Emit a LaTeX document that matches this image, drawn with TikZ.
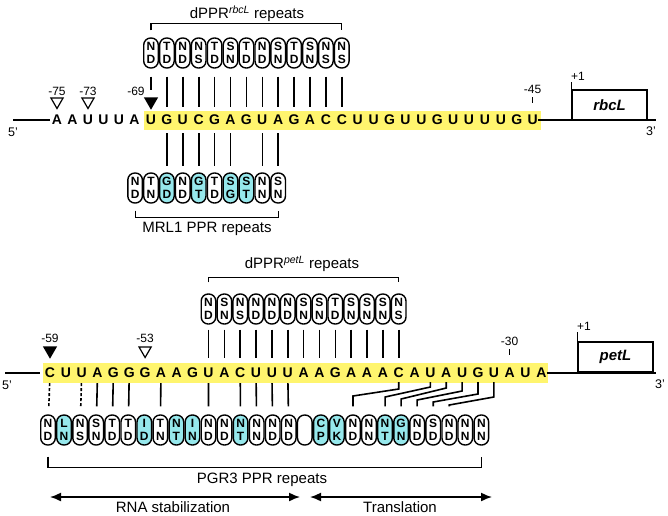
\documentclass[tikz,border=0pt]{standalone}
\usepackage{fontspec}
\setmainfont{Liberation Sans}
\usetikzlibrary{arrows.meta,shapes.geometric}
\definecolor{seqyellow}{RGB}{255,245,110}
\definecolor{repcyan}{RGB}{150,232,236}
\tikzset{
  base/.style={font=\bfseries\fontsize{14}{14}\selectfont, inner sep=0pt, minimum height=18pt},
  rep/.style={draw, line width=1.4pt, rounded corners=7pt, minimum width=14.6pt, minimum height=30pt,
    inner sep=0pt, align=center, font=\bfseries\fontsize{12}{12.5}\selectfont},
  link/.style={line width=1.6pt},
  dlink/.style={link, dash pattern=on 3pt off 2pt},
  brk/.style={line width=1.2pt},
  lab/.style={font=\fontsize{12}{12}\selectfont, inner sep=0pt},
  endlab/.style={font=\fontsize{12.5}{12.5}\selectfont, inner sep=0pt},
  ttl/.style={font=\fontsize{15}{15}\selectfont, inner sep=0pt},
  opentri/.style={draw, line width=1.2pt, regular polygon, regular polygon sides=3,
    shape border rotate=180, minimum size=14pt, inner sep=0pt},
  filltri/.style={opentri, fill=black},
  gene/.style={draw, line width=1.5pt, minimum width=75pt, minimum height=30pt,
    font=\bfseries\itshape\fontsize{15}{15}\selectfont},
  strand/.style={line width=1.5pt},
  biarrow/.style={line width=1.5pt, {Latex[length=11pt,width=9pt]}-{Latex[length=11pt,width=9pt]}},
}
\begin{document}
\begin{tikzpicture}[x=1pt,y=-1pt]
\useasboundingbox (0,0) rectangle (668,515);

% rbcL 5' UTR
\fill[seqyellow] (143.5,111) rectangle (541,129.5);
\foreach \b [count=\i] in {A,A,U,U,U,A}
  \node[base] (a\i) at ({41.5+15.5*\i},120) {\b};
\foreach \b [count=\i] in {U,G,U,C,G,A,G,U,A,G,A,C,C,U,U,G,U,U,G,U,U,U,U,G,U}
  \node[base] (t\i) at ({135.1+15.9*\i},120) {\b};

\coordinate (r5) at (13,120);
\coordinate (r3) at (656,120);
\draw[strand, shorten >=2pt] (r5) -- (a1);
\draw[strand] (t25.east) -- (r3);
\node[endlab] (r5lab) at (13,132) {5'};
\node[endlab] (r3lab) at (651,131) {3'};
\node[gene] (rbcL) at (609.5,105) {rbcL};
\draw[strand] (rbcL.north west) -- ++(0,-7) node[lab, anchor=south west, xshift=-1pt, yshift=1pt] (rbcLstart) {+1};

% sites
\node[opentri] (v75) at (a1 |- 0,101.5) {};
\node[opentri] (v73) at (a3 |- 0,101.5) {};
\node[filltri] (v69) at (t1 |- 0,101.5) {};
\node[lab] (l75) at (a1 |- 0,91) {-75};
\node[lab] (l73) at (a3 |- 0,91) {-73};
\node[lab] (l69) at (136,91) {-69};
\node[lab] (l45) at (t25 |- 0,89) {-45};
\draw[link] ([yshift=-4pt]l45.south) -- ++(0,6);

% dPPR rbcL
\node[ttl] (rbcLttl) at (247,14) {dPPR\textsuperscript{\textit{rbcL}} repeats};
\foreach \a/\b [count=\i] in {N/D,T/D,N/D,N/S,T/D,S/N,T/D,N/D,S/N,T/D,S/N,N/S,N/S}
  \node[rep] (d\i) at (t\i |- 0,53) {\a\\\b};
\draw[brk] ([yshift=7pt]d1.north) |- ([yshift=14pt]d13.north) -- ([yshift=7pt]d13.north);
\draw[link, shorten <=8pt, shorten >=7pt] (d1) -- (v69);
\foreach \i in {2,...,13}
  \draw[link, shorten <=8pt, shorten >=4pt] (d\i) -- (t\i);

% MRL1
\foreach \a/\b/\f [count=\j] in {N/D/white,T/N/white,G/D/repcyan,N/D/white,G/T/repcyan,T/D/white,S/G/repcyan,S/T/repcyan,N/N/white,S/N/white}
  \node[rep, fill=\f] (m\j) at ({135.1+15.9*(\j-1)},188) {\a\\\b};
\foreach \j in {3,4,5,6,7,9,10} {
  \pgfmathtruncatemacro\k{\j-1}
  \draw[link, shorten <=4pt, shorten >=6pt] (t\k) -- (m\j);
}
\draw[brk] ([yshift=-7pt]m1.south) |- ([yshift=-14pt]m10.south) -- ([yshift=-7pt]m10.south);
\node[ttl] (mrlttl) at (207,229) {MRL1 PPR repeats};

% petL 5' UTR
\fill[seqyellow] (43,362.5) rectangle (548,383);
\foreach \b [count=\i from 0] in {C,U,U,A,G,G,G,A,A,G,U,A,C,U,U,U,A,A,G,A,A,A,C,A,U,A,U,G,U,A,U,A}
  \node[base] (s\i) at ({50+15.85*\i},373) {\b};

\coordinate (p5) at (5,373);
\coordinate (p3) at (656,373);
\draw[strand, shorten >=5pt] (p5) -- (s0);
\draw[strand] (s31.east) -- (p3);
\node[endlab] (p5lab) at (7,385) {5'};
\node[endlab] (p3lab) at (660,384) {3'};
\node[gene] (petL) at (615.5,357) {petL};
\draw[strand] (petL.north west) -- ++(0,-9) node[lab, anchor=south west, xshift=-1pt, yshift=1pt] (petLstart) {+1};

\node[filltri] (v59) at (s0 |- 0,350.5) {};
\node[opentri] (v53) at (s6 |- 0,350.5) {};
\node[lab] (l59) at (s0 |- 0,338) {-59};
\node[lab] (l53) at (s6 |- 0,338) {-53};
\node[lab] (l30) at (s29 |- 0,341) {-30};
\draw[link] ([yshift=-4pt]l30.south) -- ++(0,6);

% dPPR petL
\node[ttl] (petLttl) at (302,264) {dPPR\textsuperscript{\textit{petL}} repeats};
\foreach \a/\b [count=\i] in {N/D,S/N,N/S,N/D,N/D,N/D,S/N,S/N,T/D,S/N,S/N,S/N,N/S}
  \node[rep] (b\i) at ({50+15.85*(\i+9)},309) {\a\\\b};
\draw[brk] ([yshift=11pt]b1.north) |- ([yshift=16pt]b13.north) -- ([yshift=11pt]b13.north);
\foreach \i in {1,...,13} {
  \pgfmathtruncatemacro\k{\i+9}
  \draw[link, shorten <=5pt, shorten >=6pt] (b\i) -- (s\k);
}

% PGR3
\foreach \a/\b/\f [count=\i from 0] in {N/D/white,L/N/repcyan,N/S/white,S/N/white,T/D/white,T/D/white,I/D/repcyan,T/N/white,N/T/repcyan,I/N/repcyan,N/D/white,N/D/white,N/T/repcyan,N/N/white,N/D/white,N/D/white,~/~/white,C/P/repcyan,V/K/repcyan,N/D/white,N/N/white,N/T/repcyan,G/N/repcyan,N/D/white,S/D/white,N/D/white,N/N/white,N/N/white}
  \node[rep, fill=\f] (p\i) at ({48+16.05*\i},430) {\a\\\b};
\draw[dlink, shorten <=1pt, shorten >=8pt] (s0) -- (p0);
\draw[dlink, shorten <=1pt, shorten >=8pt] (s2) -- (p2);
\foreach \i in {3,4,5,7,10,12,13,14,15}
  \draw[link, shorten <=1pt, shorten >=8pt] (s\i) -- (p\i);
\foreach \k/\i/\ya/\yb in {22/19/389/396,24/21/387/397,25/22/388/399,26/23/391/400,27/24/394/402,28/25/397/405}
  \draw[link] (s\k.south) -- (s\k |- 0,\ya) -- (p\i |- 0,\yb) -- ([yshift=8pt]p\i.north);
\draw[brk] ([yshift=-11pt]p0.south) |- ([yshift=-22pt]p27.south) -- ([yshift=-11pt]p27.south);
\node[ttl] (pgrttl) at (262,480) {PGR3 PPR repeats};

% functions
\coordinate (rs1) at (50,497);
\coordinate (rs2) at (300,497);
\coordinate (tr1) at (310,497);
\coordinate (tr2) at (492,497);
\draw[biarrow] (rs1) -- (rs2);
\draw[biarrow] (tr1) -- (tr2);
\node[ttl] (rsttl) at (173,507) {RNA stabilization};
\node[ttl] (trttl) at (400,507) {Translation};

\end{tikzpicture}
\end{document}
